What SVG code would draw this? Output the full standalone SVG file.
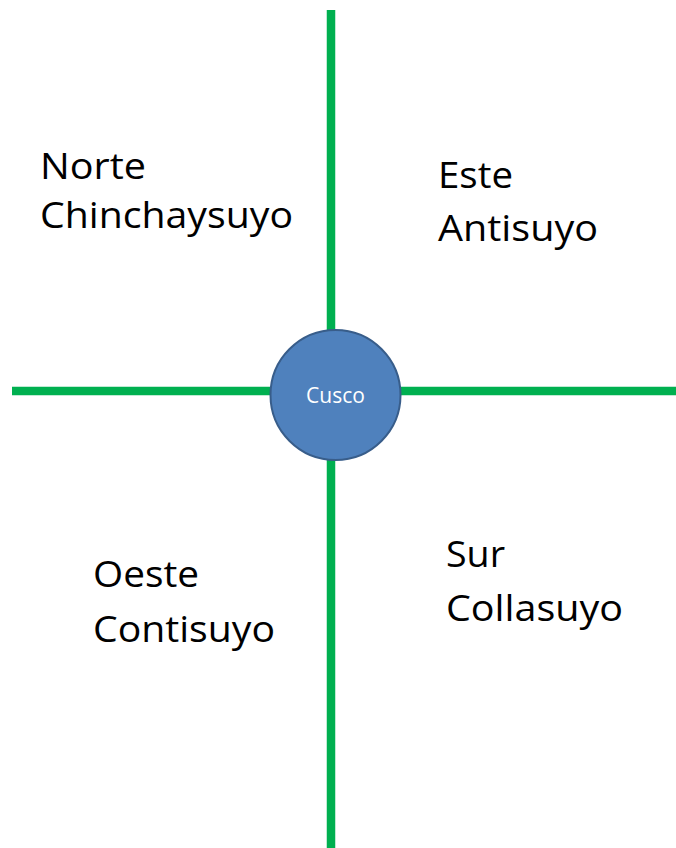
<svg xmlns="http://www.w3.org/2000/svg" width="676" height="848" viewBox="0 0 676 848">
<style>
.axis{stroke:#00B050;stroke-width:8.5;fill:none}
.lbl{font-family:"Open Sans","Noto Sans","Liberation Sans",sans-serif;font-size:37px;fill:#000}
.hub{fill:#4F81BD;stroke:#385D8A;stroke-width:2}
.hubt{font-family:"Open Sans","Noto Sans","Liberation Sans",sans-serif;font-size:21px;fill:#fff;text-anchor:middle}
</style>
<rect width="676" height="848" fill="#fff"/>
<g id="connectors">
<line class="axis" x1="331" y1="10" x2="331" y2="848"/>
<line class="axis" x1="12" y1="391" x2="676" y2="391"/>
</g>
<g id="cusco">
<circle class="hub" cx="335.5" cy="395" r="65"/>
<text class="hubt" x="335.5" y="403">Cusco</text>
</g>
<g id="norte">
<text class="lbl" x="40" y="179" textLength="106" lengthAdjust="spacingAndGlyphs">Norte</text>
<text class="lbl" x="40" y="228" textLength="253" lengthAdjust="spacingAndGlyphs">Chinchaysuyo</text>
</g>
<g id="este">
<text class="lbl" x="438" y="188" textLength="75" lengthAdjust="spacingAndGlyphs">Este</text>
<text class="lbl" x="438" y="241" textLength="160" lengthAdjust="spacingAndGlyphs">Antisuyo</text>
</g>
<g id="oeste">
<text class="lbl" x="93" y="587" textLength="106" lengthAdjust="spacingAndGlyphs">Oeste</text>
<text class="lbl" x="93" y="642" textLength="182" lengthAdjust="spacingAndGlyphs">Contisuyo</text>
</g>
<g id="sur">
<text class="lbl" x="446" y="567" textLength="59" lengthAdjust="spacingAndGlyphs">Sur</text>
<text class="lbl" x="446" y="621" textLength="177" lengthAdjust="spacingAndGlyphs">Collasuyo</text>
</g>
</svg>
